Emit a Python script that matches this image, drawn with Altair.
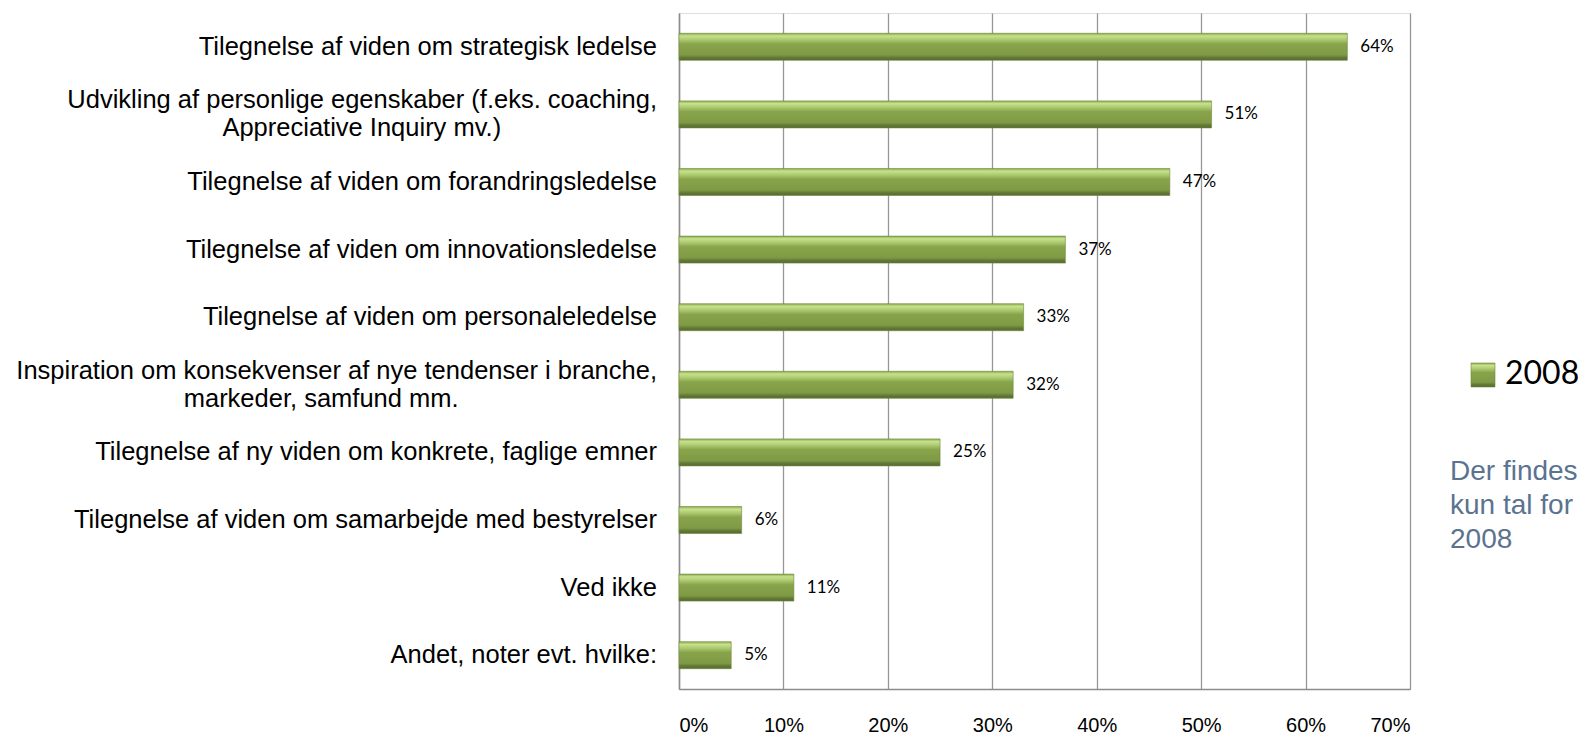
import altair as alt
import pandas as pd

categories = [
    "Tilegnelse af viden om strategisk ledelse",
    "Udvikling af personlige egenskaber (f.eks. coaching,|Appreciative Inquiry mv.)",
    "Tilegnelse af viden om forandringsledelse",
    "Tilegnelse af viden om innovationsledelse",
    "Tilegnelse af viden om personaleledelse",
    "Inspiration om konsekvenser af nye tendenser i branche,|markeder, samfund mm.",
    "Tilegnelse af ny viden om konkrete, faglige emner",
    "Tilegnelse af viden om samarbejde med bestyrelser",
    "Ved ikke",
    "Andet, noter evt. hvilke:",
]
values = [0.64, 0.51, 0.47, 0.37, 0.33, 0.32, 0.25, 0.06, 0.11, 0.05]
x_ticks = [0, 0.1, 0.2, 0.3, 0.4, 0.5, 0.6, 0.7]
series_name = "2008"
note_lines = ["Der findes", "kun tal for", "2008"]

df = pd.DataFrame({"category": categories, "value": values})

grad = alt.LinearGradient(
    gradient="linear",
    x1=0, x2=0, y1=0, y2=1,
    stops=[
        alt.GradientStop(color="#8aa64e", offset=0.0),
        alt.GradientStop(color="#c6e28c", offset=0.1),
        alt.GradientStop(color="#aac76e", offset=0.25),
        alt.GradientStop(color="#88a44b", offset=0.4),
        alt.GradientStop(color="#7f9a44", offset=0.8),
        alt.GradientStop(color="#627838", offset=0.9),
        alt.GradientStop(color="#566b2e", offset=1.0),
    ],
)

y_scale = alt.Scale(paddingInner=0.6, paddingOuter=0.3)

y_enc = alt.Y(
    "category:N",
    sort=categories,
    scale=y_scale,
    title=None,
    axis=alt.Axis(
        labels=False,
        ticks=False,
        domain=True,
        domainColor="#8c8c8c",
        domainWidth=1.5,
        grid=False,
    ),
)

x_enc = alt.X(
    "value:Q",
    scale=alt.Scale(domain=[0, 0.7], nice=False),
    title=None,
    axis=alt.Axis(
        values=x_ticks,
        format=".0%",
        labelFont="Liberation Sans",
        labelFontSize=20,
        labelColor="#000000",
        labelPadding=26,
        ticks=False,
        domainColor="#8c8c8c",
        domainWidth=1.5,
        grid=True,
        gridColor="#979797",
        gridWidth=1.3,
    ),
)

bars = alt.Chart(df).mark_bar(
    color=grad, stroke="#6f8a3a", strokeWidth=0.6
).encode(x=x_enc, y=y_enc)

labels = alt.Chart(df).mark_text(
    align="left", baseline="middle", dx=13,
    font="Lato", fontSize=17, color="#000000",
).encode(
    x=alt.X("value:Q"),
    y=alt.Y("category:N", sort=categories),
    text=alt.Text("value:Q", format=".0%"),
)

# category labels (drawn as text so that two-line labels are centred on the bar;
# the second line is padded so that it sits roughly centred under the first)
cat_base = alt.Chart(df).transform_calculate(
    l1="split(datum.category, '|')[0]",
    l2="indexof(datum.category, '|') < 0 ? '' : split(datum.category, '|')[1]",
    two="indexof(datum.category, '|') >= 0",
).transform_calculate(
    l2p="pad(datum.l2, length(datum.l2) + round((length(datum.l1) - length(datum.l2)) * 0.82), '\u00a0') + '\u200b'"
)

cat_style = dict(align="right", baseline="middle", font="Liberation Sans",
                 fontSize=25.5, color="#000000")

cat_single = cat_base.transform_filter("!datum.two").mark_text(**cat_style).encode(
    x=alt.value(-22), y=alt.Y("category:N", sort=categories), text="l1:N"
)
cat_first = cat_base.transform_filter("datum.two").mark_text(dy=-14, **cat_style).encode(
    x=alt.value(-22), y=alt.Y("category:N", sort=categories), text="l1:N"
)
cat_second = cat_base.transform_filter("datum.two").mark_text(dy=14, **cat_style).encode(
    x=alt.value(-22), y=alt.Y("category:N", sort=categories), text="l2p:N"
)

legend_df = pd.DataFrame({"series": [series_name]})

legend_sym = alt.Chart(legend_df).mark_rect(
    color=grad, stroke="#6f8a3a", strokeWidth=0.6
).encode(
    x=alt.value(792), x2=alt.value(816),
    y=alt.value(350), y2=alt.value(374),
)

legend_txt = alt.Chart(legend_df).mark_text(
    align="left", baseline="middle", font="Lato", fontSize=32, color="#000000"
).encode(
    x=alt.value(826), y=alt.value(361),
    text="series:N",
)

note = alt.Chart(legend_df).mark_text(
    align="left", baseline="middle", font="Liberation Sans", fontSize=28,
    color="#5a7390", lineHeight=34,
).encode(
    x=alt.value(771), y=alt.value(459),
    text=alt.value(note_lines),
)

chart = alt.layer(
    bars, labels, cat_single, cat_first, cat_second, legend_sym, legend_txt, note
).resolve_scale(y="shared").properties(
    width=731,
    height=676,
    autosize=alt.AutoSizeParams(type="none"),
    padding={"left": 671, "top": 5, "right": 168, "bottom": 52},
).configure_view(stroke=None).configure(background="#ffffff")

chart.save("out.html", embed_options={"renderer": "svg", "actions": False})
